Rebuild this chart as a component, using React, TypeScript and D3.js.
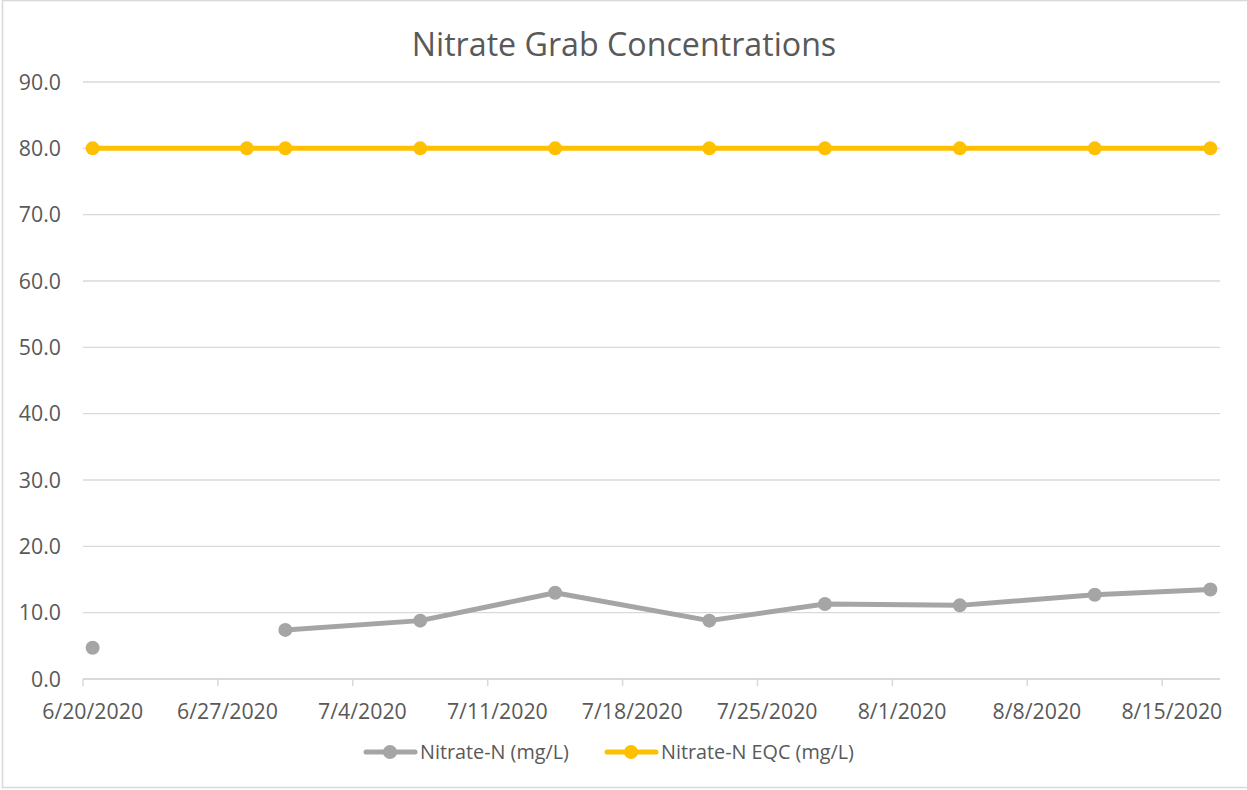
import React from "react";
import * as d3 from "d3";

const dates: string[] = ["2020-06-20","2020-06-28","2020-06-30","2020-07-07","2020-07-14","2020-07-22","2020-07-28","2020-08-04","2020-08-11","2020-08-17"];
const nitrate: (number | null)[] = [4.7, null, 7.4, 8.8, 13.0, 8.8, 11.3, 11.1, 12.7, 13.5];
const eqc: number[] = [80, 80, 80, 80, 80, 80, 80, 80, 80, 80];
const xTickDates: string[] = ["2020-06-20","2020-06-27","2020-07-04","2020-07-11","2020-07-18","2020-07-25","2020-08-01","2020-08-08","2020-08-15"];
const yTicks: number[] = [0, 10, 20, 30, 40, 50, 60, 70, 80, 90];
const title = "Nitrate Grab Concentrations";
const seriesNames = ["Nitrate-N (mg/L)", "Nitrate-N EQC (mg/L)"];

const W = 1247, H = 790;
const L = 83, R = 1220, T = 82, B = 679;
const FONT = "'Open Sans', sans-serif";
const GRAY = "#A5A5A5", GOLD = "#FFC000", TXT = "#595959", GRID = "#D9D9D9";

const parse = (s: string) => { const [y, m, d] = s.split("-").map(Number); return new Date(Date.UTC(y, m - 1, d)); };
const fmt = (s: string) => { const dt = parse(s); return `${dt.getUTCMonth() + 1}/${dt.getUTCDate()}/${dt.getUTCFullYear()}`; };
const DAY = 86400000;

export default function App() {
  const start = parse("2020-06-20");
  const end = new Date(parse("2020-08-17").getTime() + DAY);
  const x = d3.scaleUtc().domain([start, end]).range([L, R]);
  const halfDay = (x(new Date(start.getTime() + DAY)) - x(start)) / 2;
  const px = (s: string) => x(parse(s)) + halfDay;
  const y = d3.scaleLinear().domain([0, 90]).range([B, T]);

  const lineGen = d3.line<[number, number | null]>()
    .defined(d => d[1] !== null)
    .x(d => d[0]).y(d => y(d[1] as number));
  const grayPts: [number, number | null][] = dates.map((d, i) => [px(d), nitrate[i]]);
  const goldPts: [number, number | null][] = dates.map((d, i) => [px(d), eqc[i]]);

  return (
    <svg width={W} height={H} style={{ position: "absolute", left: 0, top: 0 }}>
      <rect x={0} y={0} width={W} height={H} fill="#fff" />
      <rect x={2.5} y={0.5} width={W + 5} height={787} fill="none" stroke={GRID} strokeWidth={1.5} />
      <text x={624} y={56} textAnchor="middle" fontFamily={FONT} fontSize={32.2} fill={TXT}>{title}</text>
      {yTicks.map(t => (
        <g key={t}>
          <line x1={L} x2={R} y1={y(t)} y2={y(t)} stroke={GRID} strokeWidth={t === 0 ? 2 : 1.3} />
          <text x={61} y={y(t) + 7.5} textAnchor="end" fontFamily={FONT} fontSize={21.3} fill={TXT}>{t.toFixed(1)}</text>
        </g>
      ))}
      {xTickDates.map(t => (
        <g key={t}>
          <line x1={x(parse(t))} x2={x(parse(t))} y1={B} y2={B + 7} stroke={GRID} strokeWidth={1.5} />
          <text x={x(parse(t)) + halfDay} y={719} textAnchor="middle" fontFamily={FONT} fontSize={21.3} fill={TXT}>{fmt(t)}</text>
        </g>
      ))}
      <path d={lineGen(grayPts) || ""} fill="none" stroke={GRAY} strokeWidth={5} strokeLinejoin="round" strokeLinecap="round" />
      {grayPts.filter(p => p[1] !== null).map((p, i) => (
        <circle key={i} cx={p[0]} cy={y(p[1] as number)} r={7} fill={GRAY} />
      ))}
      <path d={lineGen(goldPts) || ""} fill="none" stroke={GOLD} strokeWidth={5} strokeLinejoin="round" strokeLinecap="round" />
      {goldPts.map((p, i) => (
        <circle key={i} cx={p[0]} cy={y(p[1] as number)} r={7} fill={GOLD} />
      ))}
      <g>
        <line x1={366} x2={415} y1={752} y2={752} stroke={GRAY} strokeWidth={5} strokeLinecap="round" />
        <circle cx={390} cy={752} r={7} fill={GRAY} />
        <text x={420} y={759} fontFamily={FONT} fontSize={19.8} fill={TXT}>{seriesNames[0]}</text>
        <line x1={607} x2={656} y1={752} y2={752} stroke={GOLD} strokeWidth={5} strokeLinecap="round" />
        <circle cx={631} cy={752} r={7} fill={GOLD} />
        <text x={661} y={759} fontFamily={FONT} fontSize={19.8} fill={TXT}>{seriesNames[1]}</text>
      </g>
    </svg>
  );
}
